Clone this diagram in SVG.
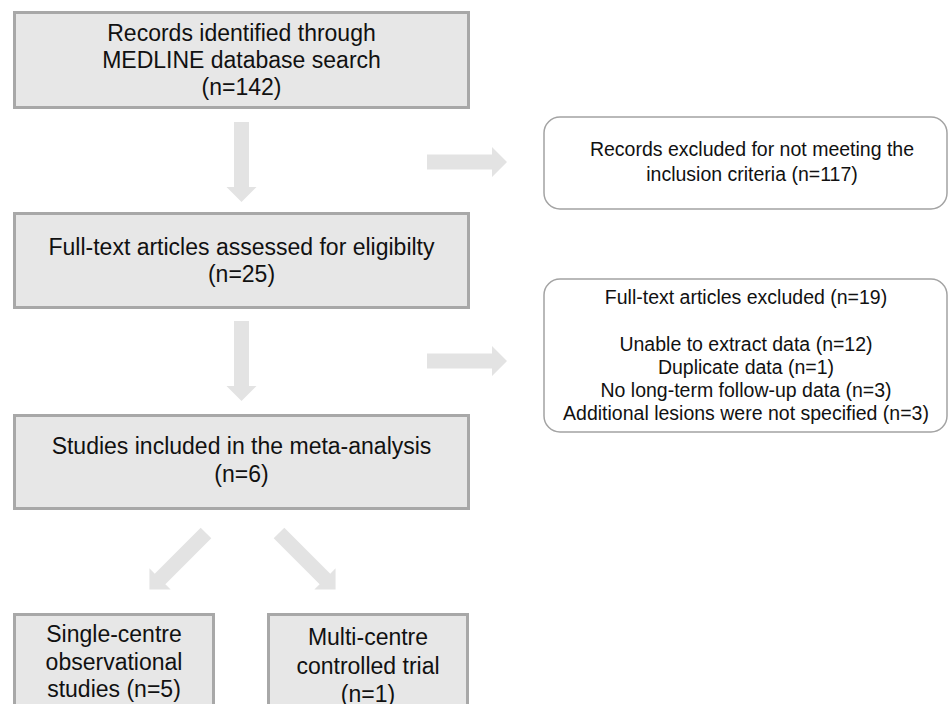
<svg xmlns="http://www.w3.org/2000/svg" xmlns:xlink="http://www.w3.org/1999/xlink" width="949" height="704" viewBox="0 0 949 704">
<style>
.box{fill:#e7e7e7;stroke:#a8a8a8;stroke-width:3}
.rbox{fill:#ffffff;stroke:#a3a3a3;stroke-width:1.5}
.t{font-family:"Liberation Sans",Arial,sans-serif;font-size:23px;fill:#111;text-anchor:middle}
.s{font-family:"Liberation Sans",Arial,sans-serif;font-size:19.5px;fill:#111;text-anchor:middle}
.arr{fill:#e3e3e3}
</style>
<defs>
<path id="arrow" d="M0,-7.5 H65 V-15 L80,0 L65,15 V7.5 H0 Z"/>
</defs>
<rect width="949" height="704" fill="#ffffff"/>
<g id="connectors" class="arr">
<use xlink:href="#arrow" href="#arrow" transform="translate(241.5,122) rotate(90)"/>
<use xlink:href="#arrow" href="#arrow" transform="translate(241.5,321) rotate(90)"/>
<use xlink:href="#arrow" href="#arrow" transform="translate(427,162)"/>
<use xlink:href="#arrow" href="#arrow" transform="translate(427,361)"/>
<use xlink:href="#arrow" href="#arrow" transform="translate(206,533) rotate(135)"/>
<use xlink:href="#arrow" href="#arrow" transform="translate(279,533) rotate(45)"/>
</g>
<g id="identified">
<rect class="box" x="14.5" y="12.5" width="454" height="95"/>
<text class="t" x="241.5" y="41">Records identified through</text>
<text class="t" x="241.5" y="68">MEDLINE database search</text>
<text class="t" x="241.5" y="95">(n=142)</text>
</g>
<g id="fulltext">
<rect class="box" x="14.5" y="213.5" width="454" height="94"/>
<text class="t" x="241.5" y="255">Full-text articles assessed for eligibilty</text>
<text class="t" x="241.5" y="282">(n=25)</text>
</g>
<g id="included">
<rect class="box" x="14.5" y="415.5" width="454" height="93"/>
<text class="t" x="241.5" y="454">Studies included in the meta-analysis</text>
<text class="t" x="241.5" y="482">(n=6)</text>
</g>
<g id="single">
<rect class="box" x="14.5" y="614.5" width="199" height="100"/>
<text class="t" x="114" y="642">Single-centre</text>
<text class="t" x="114" y="670">observational</text>
<text class="t" x="114" y="697">studies (n=5)</text>
</g>
<g id="multi">
<rect class="box" x="268.5" y="614.5" width="199" height="100"/>
<text class="t" x="368" y="645">Multi-centre</text>
<text class="t" x="368" y="674">controlled trial</text>
<text class="t" x="368" y="702">(n=1)</text>
</g>
<g id="excluded-records">
<rect class="rbox" x="544" y="117" width="403" height="92" rx="16"/>
<text class="s" x="752" y="156">Records excluded for not meeting the</text>
<text class="s" x="752" y="181">inclusion criteria (n=117)</text>
</g>
<g id="excluded-fulltext">
<rect class="rbox" x="544" y="279" width="403" height="153" rx="16"/>
<text class="s" x="746" y="304">Full-text articles excluded (n=19)</text>
<text class="s" x="746" y="351">Unable to extract data (n=12)</text>
<text class="s" x="746" y="374">Duplicate data (n=1)</text>
<text class="s" x="746" y="397">No long-term follow-up data (n=3)</text>
<text class="s" x="746" y="420">Additional lesions were not specified (n=3)</text>
</g>
</svg>
